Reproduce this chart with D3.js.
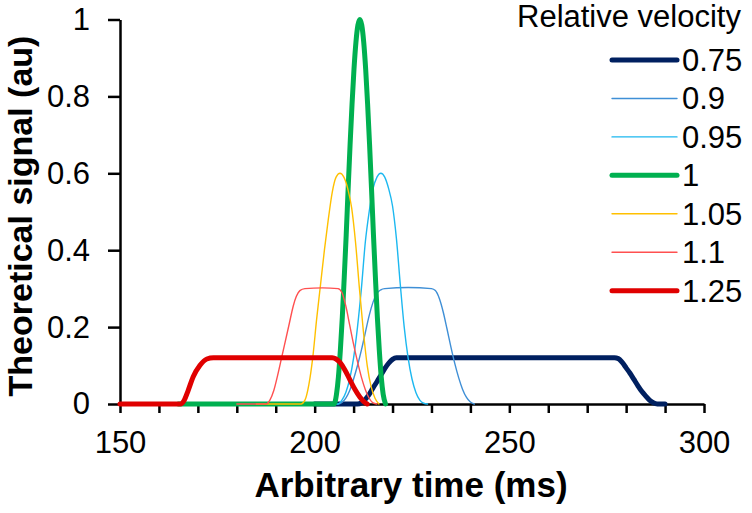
<!DOCTYPE html>
<html>
<head>
<meta charset="utf-8">
<script src="https://cdn.jsdelivr.net/npm/d3@7"></script>
<style>
  html, body { margin: 0; padding: 0; background: #fff; }
  svg { display: block; }
  text { font-family: Arial, "Liberation Sans", sans-serif; fill: #000; }
</style>
</head>
<body>
<svg id="chart" width="752" height="513"></svg>
<script>
// ---- Data ----
const seriesNames = ["0.75", "0.9", "0.95", "1", "1.05", "1.1", "1.25"];

// each: [time (ms), signal (au)]
const s075 = [[200,0],[211,0],[212,0.003],[213,0.012],[214,0.025],[215,0.042],[216,0.058],[217,0.075],[218,0.092],[219,0.106],[220,0.116],[221,0.12],[250,0.12],[277,0.12],[278,0.118],[279,0.108],[280,0.094],[281,0.08],[282,0.064],[283,0.048],[284,0.033],[285,0.021],[286,0.01],[287,0.003],[288,0],[290,0]];
const s090 = [[195,0],[206,0],[207,0.004],[208,0.015],[209,0.035],[210,0.065],[211,0.1],[212,0.14],[213,0.185],[214,0.23],[215,0.265],[216,0.288],[217,0.297],[218,0.3],[224,0.303],[230,0.3],[231,0.295],[232,0.275],[233,0.24],[234,0.195],[235,0.148],[236,0.105],[237,0.068],[238,0.038],[239,0.017],[240,0.005],[241,0]];
const s095 = [[195,0],[206,0],[207,0.01],[208,0.03],[209,0.065],[210,0.12],[211,0.2],[212,0.3],[213,0.42],[214,0.5],[215,0.56],[216,0.59],[217,0.6],[218,0.59],[219,0.56],[220,0.515],[221,0.43],[222,0.31],[223,0.2],[224,0.12],[225,0.065],[226,0.03],[227,0.01],[228,0.002],[229,0]];
const s100 = [[165,0],[205,0],[205.6,0.025],[206.1,0.07],[206.6,0.14],[207.1,0.226],[207.6,0.33],[208.1,0.44],[208.6,0.56],[209.1,0.675],[209.6,0.78],[210.1,0.871],[210.6,0.941],[211.1,0.985],[211.6,1.0],[212.1,0.985],[212.6,0.941],[213.1,0.871],[213.6,0.78],[214.1,0.675],[214.6,0.56],[215.1,0.44],[215.6,0.33],[216.1,0.226],[216.6,0.14],[217.1,0.07],[217.6,0.025],[218.2,0]];
const s105 = [[185,0],[196.5,0],[197.5,0.01],[198.5,0.05],[199.5,0.12],[200.5,0.22],[201.5,0.31],[202.5,0.4],[203.5,0.48],[204.5,0.55],[205.5,0.59],[206.5,0.6],[207.5,0.59],[208.5,0.56],[209.5,0.51],[210.5,0.42],[211.5,0.3],[212.5,0.19],[213.5,0.1],[214.5,0.045],[215.5,0.015],[216.5,0]];
const s110 = [[180,0],[187.5,0],[188.5,0.01],[189.5,0.035],[190.5,0.075],[191.5,0.12],[192.5,0.165],[193.5,0.21],[194.5,0.255],[195.3,0.28],[196.2,0.295],[197.5,0.3],[202,0.302],[206,0.3],[207,0.29],[208,0.255],[209,0.205],[210,0.155],[211,0.11],[212,0.07],[213,0.038],[214,0.015],[215,0.003],[216,0]];
const s125 = [[150,0],[165.5,0],[166.5,0.01],[167.5,0.035],[168.8,0.071],[170.5,0.1],[172.3,0.117],[174,0.12],[190,0.12],[204.5,0.12],[205.5,0.117],[206.5,0.108],[207.8,0.088],[209.1,0.062],[210.4,0.037],[211.6,0.018],[212.6,0.006],[213.5,0]];

const seriesValues = [s075, s090, s095, s100, s105, s110, s125];
const seriesColors = ["#002060", "#3F8FD6", "#1CB8F0", "#00B050", "#FFC000", "#FF5050", "#E00000"];
const seriesWidths = [5, 1.4, 1.4, 5, 1.4, 1.4, 5];

const xTicks = d3.range(150, 301, 10);
const xTickLabels = [150, 200, 250, 300];
const yTicks = [0, 0.2, 0.4, 0.6, 0.8, 1];
const xTitle = "Arbitrary time (ms)";
const yTitle = "Theoretical signal (au)";
const legendTitle = "Relative velocity";

// ---- Layout ----
const svg = d3.select("#chart");
const x = d3.scaleLinear().domain([150, 300]).range([120, 704]);
const y = d3.scaleLinear().domain([0, 1]).range([404, 19.5]);

// axes
const yAxis = d3.axisLeft(y).tickValues(yTicks).tickSize(12).tickSizeOuter(0).tickPadding(18)
  .tickFormat(d3.format("~g"));
const gy = svg.append("g").attr("transform", `translate(${x.range()[0]},0)`).call(yAxis);

const xAxis = d3.axisBottom(x).tickValues(xTicks).tickSize(9).tickSizeOuter(0).tickPadding(18)
  .tickFormat(d => xTickLabels.includes(d) ? String(d) : "");
const gx = svg.append("g").attr("transform", `translate(0,${y.range()[0]})`).call(xAxis);

[gx, gy].forEach(g => {
  g.select(".domain").attr("stroke", "#000").attr("stroke-width", 2.5);
  g.selectAll(".tick line").attr("stroke", "#000").attr("stroke-width", 2.5);
  g.selectAll(".tick text").attr("font-size", 31).attr("font-family", "Arial, 'Liberation Sans', sans-serif").attr("fill", "#000");
});

// lines
const line = d3.line().x(d => x(d[0])).y(d => y(d[1])).curve(d3.curveMonotoneX);
svg.append("g").selectAll("path").data(seriesValues).join("path")
  .attr("d", d => line(d))
  .attr("fill", "none")
  .attr("stroke", (d, i) => seriesColors[i])
  .attr("stroke-width", (d, i) => seriesWidths[i])
  .attr("stroke-linejoin", "round")
  .attr("stroke-linecap", "round");

// axis titles
svg.append("text").attr("x", 411).attr("y", 497).attr("text-anchor", "middle")
  .attr("font-size", 35).attr("font-weight", "bold").text(xTitle);
svg.append("text").attr("transform", "translate(32,216) rotate(-90)").attr("text-anchor", "middle")
  .attr("font-size", 34).attr("font-weight", "bold").text(yTitle);

// legend
svg.append("text").attr("x", 517).attr("y", 27).attr("font-size", 31).text(legendTitle);
const lg = svg.append("g").selectAll("g").data(seriesNames).join("g")
  .attr("transform", (d, i) => `translate(0,${60 + i * 38.45})`);
lg.append("line").attr("x1", 612).attr("x2", 677).attr("y1", 0).attr("y2", 0)
  .attr("stroke", (d, i) => seriesColors[i]).attr("stroke-width", (d, i) => seriesWidths[i])
  .attr("stroke-linecap", "round");
lg.append("text").attr("x", 682).attr("dy", "0.35em").attr("font-size", 31).text(d => d);
</script>
</body>
</html>
